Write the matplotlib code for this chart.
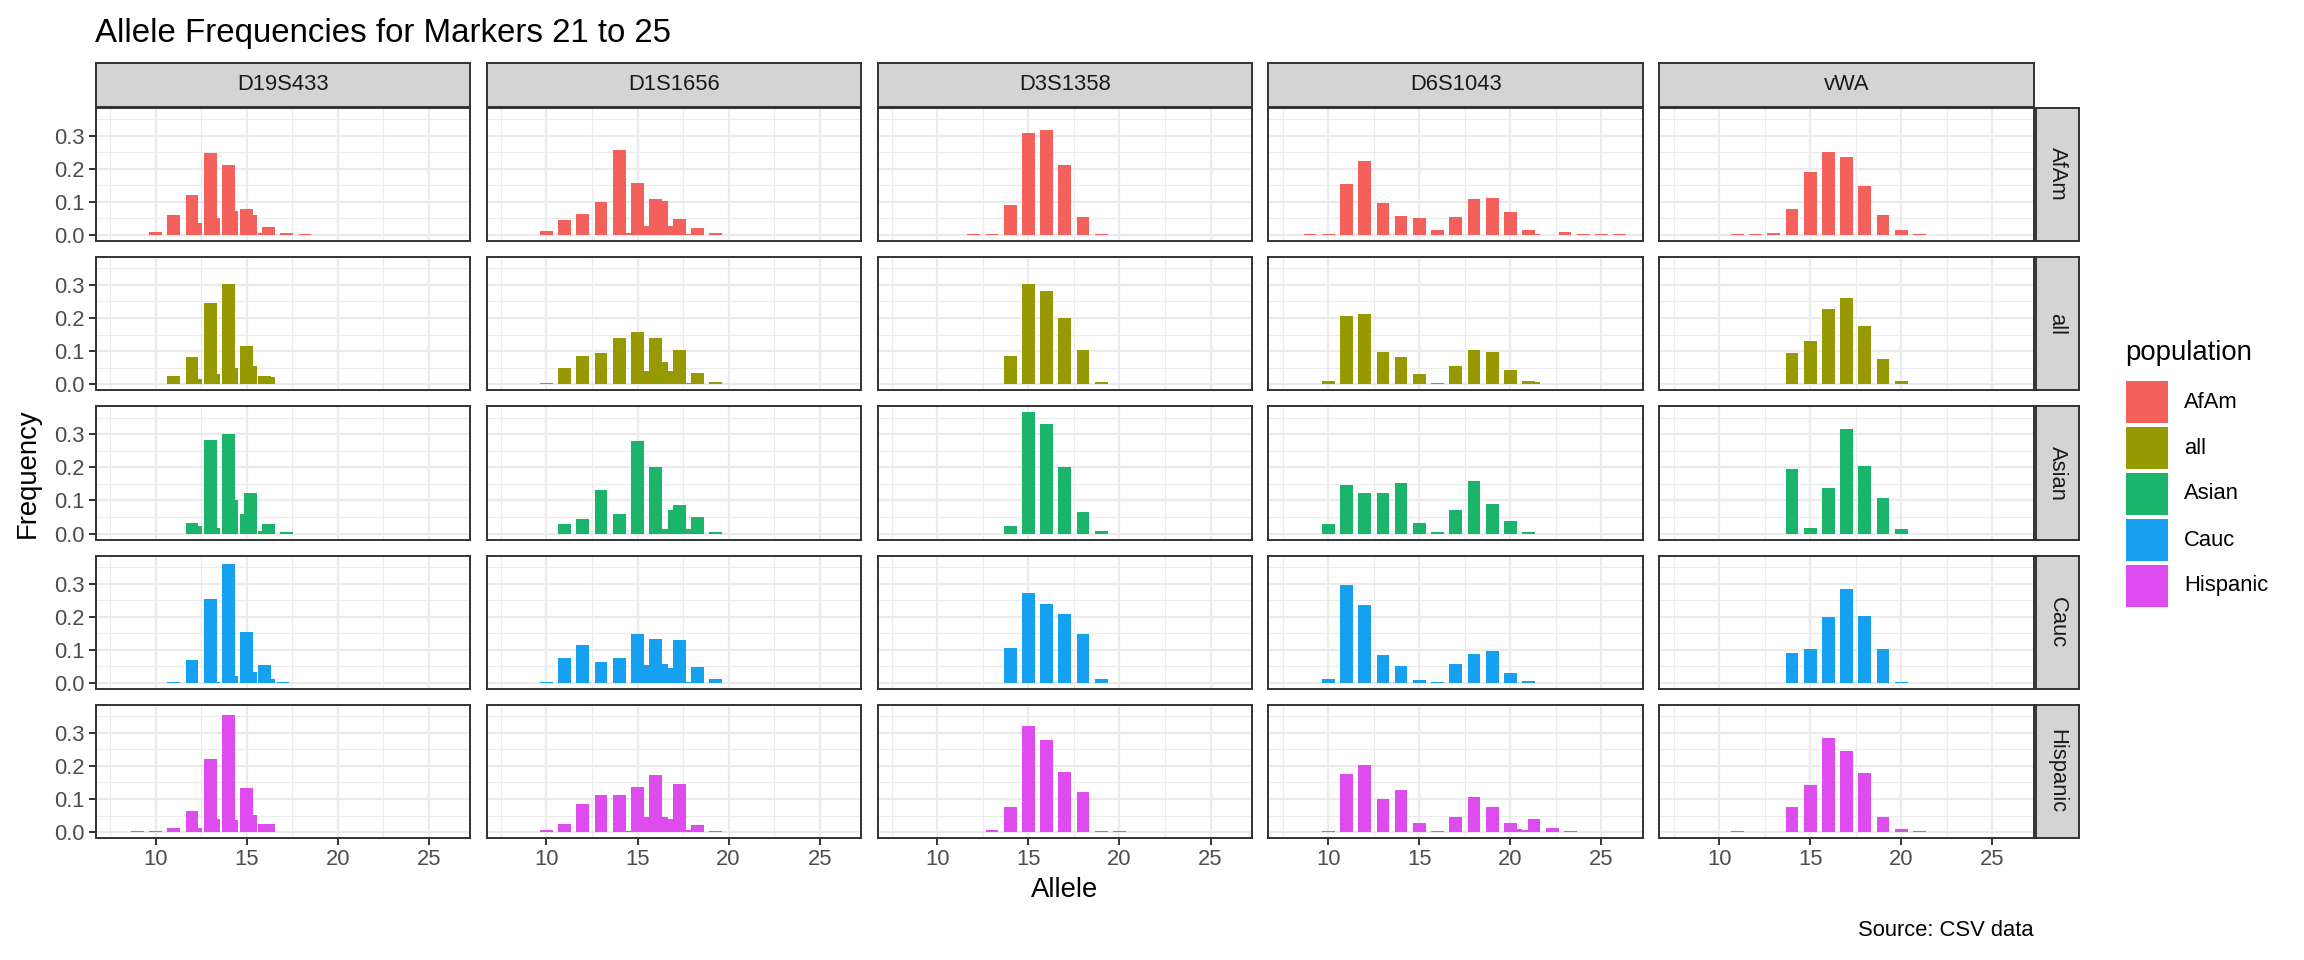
import numpy as np
import matplotlib.pyplot as plt
from matplotlib.patches import Rectangle

plt.rcParams['font.family'] = ['Liberation Sans', 'DejaVu Sans']

# ---- data (allele frequencies) ----
markers = ['D19S433', 'D1S1656', 'D3S1358', 'D6S1043', 'vWA']
populations = ['AfAm', 'all', 'Asian', 'Cauc', 'Hispanic']
pop_colors = ['#F4605B', '#969900', '#1BB46B', '#15A0F0', '#DE4CEF']

d19_alleles = [9, 10, 11, 12, 12.2, 13, 13.2, 14, 14.2, 15, 15.2, 16, 16.2, 17, 17.2, 18.2]
d19_afam = [0, 0.010, 0.060, 0.120, 0.036, 0.246, 0.051, 0.210, 0.072, 0.078, 0.061, 0.005, 0.025, 0, 0.006, 0.002]
d19_all = [0.001, 0.002, 0.025, 0.082, 0.015, 0.246, 0.031, 0.304, 0.048, 0.114, 0.055, 0.025, 0.021, 0.001, 0.002, 0.001]
d19_asian = [0, 0, 0, 0.033, 0.024, 0.282, 0.017, 0.300, 0.102, 0.060, 0.123, 0.009, 0.030, 0, 0.004, 0]
d19_cauc = [0, 0.001, 0.004, 0.069, 0.001, 0.252, 0.004, 0.360, 0.021, 0.153, 0.033, 0.054, 0.012, 0.003, 0.001, 0.001]
d19_hisp = [0.002, 0.002, 0.011, 0.063, 0.011, 0.221, 0.041, 0.353, 0.036, 0.134, 0.053, 0.026, 0.026, 0, 0, 0]

d1_alleles = [10, 11, 12, 13, 14, 14.3, 15, 15.3, 16, 16.3, 17, 17.3, 18, 18.3, 19.3]
d1_afam = [0.012, 0.045, 0.063, 0.099, 0.258, 0.006, 0.156, 0.028, 0.108, 0.102, 0.028, 0.048, 0.002, 0.021, 0.006]
d1_all = [0.004, 0.048, 0.084, 0.093, 0.141, 0.002, 0.159, 0.039, 0.141, 0.066, 0.039, 0.102, 0.003, 0.033, 0.006]
d1_asian = [0, 0.030, 0.045, 0.132, 0.060, 0, 0.279, 0, 0.201, 0.015, 0.072, 0.087, 0.015, 0.051, 0.004]
d1_cauc = [0.002, 0.075, 0.114, 0.063, 0.075, 0.001, 0.147, 0.054, 0.132, 0.057, 0.045, 0.129, 0.004, 0.048, 0.012]
d1_hisp = [0.006, 0.026, 0.086, 0.113, 0.113, 0.003, 0.137, 0.047, 0.173, 0.047, 0.041, 0.146, 0.006, 0.023, 0.003]

d3_alleles = [11, 12, 13, 14, 15, 16, 17, 18, 19, 20]
d3_afam = [0, 0.003, 0.002, 0.090, 0.309, 0.318, 0.210, 0.054, 0.003, 0]
d3_all = [0.001, 0.001, 0.002, 0.084, 0.303, 0.282, 0.201, 0.102, 0.006, 0.001]
d3_asian = [0, 0, 0, 0.024, 0.366, 0.330, 0.201, 0.066, 0.009, 0]
d3_cauc = [0.001, 0, 0.001, 0.105, 0.270, 0.237, 0.207, 0.147, 0.012, 0.001]
d3_hisp = [0, 0, 0.006, 0.077, 0.320, 0.278, 0.182, 0.122, 0.003, 0.002]

d6_alleles = [8, 9, 10, 11, 12, 13, 14, 15, 16, 17, 18, 19, 20, 20.3, 21, 21.3, 22, 22.3, 23, 23.3, 24, 25, 26]
d6_afam = [0, 0.002, 0.004, 0.153, 0.222, 0.096, 0.057, 0.051, 0.015, 0.054, 0.108, 0.111, 0.069, 0, 0.015, 0.002, 0, 0, 0.009, 0, 0.003, 0.002, 0.002]
d6_all = [0.001, 0.001, 0.009, 0.207, 0.213, 0.096, 0.081, 0.030, 0.003, 0.054, 0.102, 0.096, 0.042, 0.001, 0.009, 0.006, 0.002, 0.002, 0.002, 0, 0.002, 0.001, 0.001]
d6_asian = [0, 0, 0.030, 0.147, 0.123, 0.123, 0.153, 0.033, 0.004, 0.072, 0.159, 0.090, 0.039, 0, 0.004, 0, 0, 0, 0, 0, 0, 0, 0]
d6_cauc = [0.001, 0, 0.012, 0.294, 0.234, 0.084, 0.051, 0.009, 0.002, 0.057, 0.087, 0.096, 0.030, 0, 0.006, 0, 0.001, 0, 0, 0, 0, 0, 0]
d6_hisp = [0, 0, 0.003, 0.176, 0.203, 0.101, 0.128, 0.029, 0.002, 0.047, 0.107, 0.077, 0.029, 0.008, 0.005, 0.041, 0, 0.011, 0, 0.002, 0, 0, 0]

vwa_alleles = [11, 12, 13, 14, 15, 16, 17, 18, 19, 20, 21]
vwa_afam = [0.002, 0.002, 0.006, 0.078, 0.189, 0.249, 0.234, 0.147, 0.060, 0.015, 0.002]
vwa_all = [0.001, 0.001, 0.002, 0.093, 0.132, 0.228, 0.261, 0.177, 0.075, 0.009, 0.001]
vwa_asian = [0, 0, 0, 0.195, 0.018, 0.138, 0.315, 0.204, 0.108, 0.015, 0]
vwa_cauc = [0, 0.001, 0.001, 0.090, 0.102, 0.198, 0.282, 0.201, 0.102, 0.003, 0.001]
vwa_hisp = [0.002, 0, 0, 0.077, 0.143, 0.284, 0.245, 0.179, 0.047, 0.008, 0.002]

marker_data = {
    'D19S433': (d19_alleles, [d19_afam, d19_all, d19_asian, d19_cauc, d19_hisp]),
    'D1S1656': (d1_alleles, [d1_afam, d1_all, d1_asian, d1_cauc, d1_hisp]),
    'D3S1358': (d3_alleles, [d3_afam, d3_all, d3_asian, d3_cauc, d3_hisp]),
    'D6S1043': (d6_alleles, [d6_afam, d6_all, d6_asian, d6_cauc, d6_hisp]),
    'vWA': (vwa_alleles, [vwa_afam, vwa_all, vwa_asian, vwa_cauc, vwa_hisp]),
}

# ---- layout (pixels) ----
W, H = 2304, 960
fig = plt.figure(figsize=(W / 100, H / 100), dpi=100)

left0, xstep, panel_w = 95.7, 390.9, 374.7
top0, ystep, panel_h = 107.7, 149.3, 133.3
bar_w = 0.7

# shared scales with ggplot-like 5% expansion
all_x = np.concatenate([np.array(marker_data[m][0], dtype=float) for m in markers])
xmin, xmax = all_x.min() - bar_w / 2, all_x.max() + bar_w / 2
xpad = 0.05 * (xmax - xmin)
ymax = max(max(v) for m in markers for v in marker_data[m][1])

grid_c = '#EBEBEB'
border_c = '#333333'
strip_c = '#D4D4D4'
txt_c = '#4D4D4D'
tick_fs = 15.8
strip_fs = 15.8


def px_rect(x, y, w, h):
    return [x / W, 1 - (y + h) / H, w / W, h / H]


for i, pop in enumerate(populations):
    for j, m in enumerate(markers):
        x0 = left0 + j * xstep
        y0 = top0 + i * ystep
        ax = fig.add_axes(px_rect(x0, y0, panel_w, panel_h))
        alleles, freqs = marker_data[m]
        ax.bar(alleles, freqs[i], width=bar_w, color=pop_colors[i], linewidth=0, zorder=3)
        ax.set_xlim(xmin - xpad, xmax + xpad)
        ax.set_ylim(-0.05 * ymax, 1.05 * ymax)
        ax.set_xticks([10, 15, 20, 25])
        ax.set_xticks([7.5, 12.5, 17.5, 22.5], minor=True)
        ax.set_yticks([0.0, 0.1, 0.2, 0.3])
        ax.set_yticks([0.05, 0.15, 0.25, 0.35], minor=True)
        ax.set_axisbelow(True)
        ax.grid(which='major', color=grid_c, lw=1.6)
        ax.grid(which='minor', color=grid_c, lw=0.8)
        for s in ax.spines.values():
            s.set_color(border_c)
            s.set_linewidth(1.4)
        ax.tick_params(which='major', length=5, width=1.4, color=border_c,
                       labelsize=tick_fs, labelcolor=txt_c, pad=3)
        ax.tick_params(which='minor', length=0)
        if j == 0:
            ax.set_yticklabels(['0.0', '0.1', '0.2', '0.3'])
        else:
            ax.tick_params(axis='y', which='major', length=0, labelleft=False)
        if i == len(populations) - 1:
            ax.set_xticklabels(['10', '15', '20', '25'])
        else:
            ax.tick_params(axis='x', which='major', length=0, labelbottom=False)

        # top strips
        if i == 0:
            sax = fig.add_axes(px_rect(x0, 63, panel_w, 43.5))
            sax.set_facecolor(strip_c)
            sax.set_xticks([])
            sax.set_yticks([])
            for s in sax.spines.values():
                s.set_color(border_c)
                s.set_linewidth(1.4)
            sax.text(0.5, 0.5, m, ha='center', va='center', fontsize=strip_fs,
                     color='#1A1A1A', transform=sax.transAxes)

    # right strips
    y0 = top0 + i * ystep
    rax = fig.add_axes(px_rect(left0 + 4 * xstep + panel_w + 1.5, y0, 43, panel_h))
    rax.set_facecolor(strip_c)
    rax.set_xticks([])
    rax.set_yticks([])
    for s in rax.spines.values():
        s.set_color(border_c)
        s.set_linewidth(1.4)
    rax.text(0.5, 0.5, pop, ha='center', va='center', rotation=270, fontsize=strip_fs,
             color='#1A1A1A', transform=rax.transAxes)

# titles and labels
fig.text(95 / W, 1 - 42 / H, 'Allele Frequencies for Markers 21 to 25', fontsize=23.8,
         ha='left', va='baseline', color='black')
fig.text(28 / W, 1 - 473 / H, 'Frequency', rotation=90, fontsize=19.8,
         ha='center', va='center', color='black')
fig.text(1065 / W, 1 - 890 / H, 'Allele', fontsize=19.8, ha='center', va='center', color='black')
fig.text(2034 / W, 1 - 931 / H, 'Source: CSV data', fontsize=15.8, ha='right', va='center',
         color='black')

# legend
fig.text(2125 / W, 1 - 353 / H, 'population', fontsize=19.8, ha='left', va='center', color='black')
for k, pop in enumerate(populations):
    ky = 381 + k * 46
    fig.add_artist(Rectangle((2126 / W, 1 - (ky + 42) / H), 42 / W, 42 / H,
                             facecolor=pop_colors[k], edgecolor='none',
                             transform=fig.transFigure))
    fig.text(2184 / W, 1 - (ky + 21) / H, pop, fontsize=15.8, ha='left', va='center',
             color='black')

fig.savefig('out.png', dpi=100, facecolor='white')
